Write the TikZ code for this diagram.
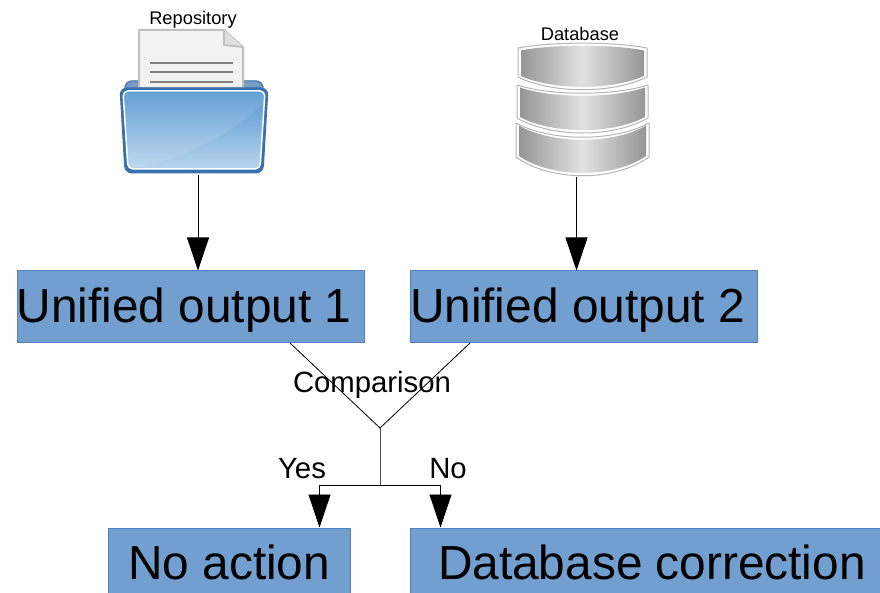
\documentclass[tikz,border=0pt]{standalone}
\usepackage{fontspec}
\setmainfont{Liberation Sans}
\usetikzlibrary{arrows.meta}
\definecolor{boxblue}{HTML}{729FCF}
\definecolor{boxline}{HTML}{4F81BD}
\definecolor{folderdark}{HTML}{3A70AE}
\definecolor{foldertop}{HTML}{5596D0}
\definecolor{folderlow}{HTML}{B8D5EE}
\definecolor{diskedge}{HTML}{969696}
\definecolor{diskmid}{HTML}{E2E2E2}
\tikzset{outbox/.style = {shape=rectangle,draw=boxline,fill=boxblue,text height=52pt,text depth=19pt,inner xsep=0pt,inner ysep=0pt,align=flush left,anchor=north west,font=\fontsize{47.8}{48}\selectfont}}
\tikzset{midlabel/.style = {font=\fontsize{29.3}{29.3}\selectfont}}
\tikzset{iconlabel/.style = {font=\fontsize{18.3}{18.3}\selectfont}}
\tikzset{iconbox/.style = {shape=rectangle,inner sep=0pt,minimum width=130pt,minimum height=100pt}}
\tikzset{edge/.style = {-{Triangle[length=33pt,width=22pt]},line width=0.8pt}}
\tikzset{disk/.style = {draw=diskedge!70,fill=white,line width=1pt,line join=round}}
\begin{document}
\begin{tikzpicture}[x=1pt,y=-1pt]
  \clip[use as bounding box] (0,0) rectangle (880,593);

  % folder, back sheet then paper
  \draw[folderdark,fill=folderdark!70,line width=1pt,rounded corners=5pt] (124,92) -- (126,81) -- (262,81) -- (264,92) -- cycle;
  \draw[gray!50,fill=black!5,line width=2pt,line join=round] (139,30) -- (224,30) -- (243,47) -- (243,88) -- (139,88) -- cycle;
  \draw[gray!50,fill=black!12,line width=2pt,line join=round] (224,30) -- (224,45) -- (243,47);
  \foreach \y in {63,72,82} \draw[gray,line width=1.5pt] (150,\y) -- (233,\y);
  % folder, front
  \draw[folderdark,fill=folderdark,line width=1pt,rounded corners=7pt] (120,88) -- (268,88) -- (263,173) -- (125,173) -- cycle;
  \shade[top color=foldertop,bottom color=folderlow,draw=white,line width=1.5pt,rounded corners=5pt] (123,91) -- (265,91) -- (260,169) -- (128,169) -- cycle;
  \fill[white,opacity=0.1] (264,103) .. controls (230,135) and (190,155) .. (143,167) -- (128,167) -- (124,93) -- (264,93) -- cycle;

  % database
  \foreach \xa/\xb/\ya/\yb/\yc/\yd in {518/647/48/41.5/77/94,517/648/85/96/118/138,516/649/123/142/157/182}{
    \draw[disk] (\xa,\ya) .. controls (\xa+35,\yb) and (\xb-35,\yb) .. (\xb,\ya) -- (\xb,\yc) .. controls (\xb-35,\yd) and (\xa+35,\yd) .. (\xa,\yc) -- cycle;
    \shade[left color=diskedge,right color=diskedge,middle color=diskmid] (\xa+3,\ya+2.5) .. controls (\xa+35,\yb+2.5) and (\xb-35,\yb+2.5) .. (\xb-3,\ya+2.5) -- (\xb-3,\yc-1) .. controls (\xb-35,\yd-3.5) and (\xa+35,\yd-3.5) .. (\xa+3,\yc-1) -- cycle;
  }

  \node[iconbox] (repo) at (198,125) {};
  \node[iconbox] (db) at (576.5,127) {};
  \node[iconlabel] (repolabel) at (193,20) {Repository};
  \node[iconlabel] (dblabel) at (580,34) {Database};

  \node[outbox,text width=347.5pt] (out1) at (16.5,270.5) {Unified output 1};
  \node[outbox,text width=347.5pt] (out2) at (409.8,270.5) {Unified output 2};
  \node[outbox,text width=241.5pt] (noact) at (108,527.5) {\hspace*{20pt}No action};
  \node[outbox,text width=472pt] (fix) at (409.8,527.5) {\hspace*{28pt}Database correction};

  \coordinate (left) at (290,343);
  \coordinate (right) at (470,343);
  \coordinate (join) at (380,428);
  \coordinate (split) at (380,485);
  \coordinate (yes) at (319.5,527.5);
  \coordinate (no) at (440.5,527.5);

  \draw[edge] (repo.south) to (repo.south |- out1.north);
  \draw[edge] (db.south) to (db.south |- out2.north);
  \draw[line width=0.8pt] (left) -- (join) -- (right);
  \draw[line width=1pt,black!70] (join) -- (split);
  \draw[edge] (split) -| (yes);
  \draw[edge] (split) -| (no);

  \node[midlabel] (cmp) at (372,384.5) {Comparison};
  \node[midlabel] (yeslabel) at (302,469) {Yes};
  \node[midlabel] (nolabel) at (448,469) {No};
\end{tikzpicture}
\end{document}
